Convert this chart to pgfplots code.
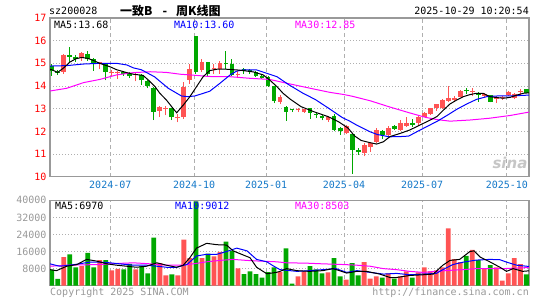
\documentclass[border=0pt]{standalone}
\usepackage{pgfplots}
\pgfplotsset{compat=1.18}
\usepackage{pgfplotstable}
\usepackage{fontspec}
\setmainfont{DejaVu Sans Mono}
\newfontfamily\cjk{Noto Sans CJK SC}
\newfontfamily\logofont{DejaVu Sans}
\definecolor{kred}{RGB}{255,84,84}
\definecolor{kgreen}{RGB}{0,168,0}
\definecolor{tblue}{RGB}{20,120,200}
\definecolor{fgray}{RGB}{153,153,153}
\definecolor{ggray}{RGB}{175,175,175}
\definecolor{mag}{RGB}{255,0,255}

\pgfplotstableread{
x o h l c
0 14.88 14.95 14.45 14.65
1 14.62 14.72 14.48 14.58
2 14.63 15.42 14.55 15.37
3 15.33 15.72 15.05 15.30
4 15.27 15.35 15.05 15.17
5 15.22 15.50 15.12 15.47
6 15.42 15.55 15.10 15.18
7 15.18 15.25 14.68 15.00
8 14.95 15.08 14.75 15.05
9 15.00 15.02 14.25 14.63
10 14.57 14.70 14.45 14.60
11 14.57 14.68 14.30 14.60
12 14.60 14.65 14.45 14.52
13 14.55 14.60 14.35 14.43
14 14.50 14.58 14.20 14.53
15 14.50 14.55 14.05 14.25
16 14.20 14.25 13.90 14.02
17 13.91 13.95 12.50 12.87
18 12.91 13.12 12.65 13.09
19 12.98 13.10 12.70 13.02
20 13.02 13.05 12.50 12.62
21 12.60 12.75 12.40 12.63
22 12.62 14.19 12.55 13.94
23 14.27 14.96 14.10 14.74
24 16.20 16.22 14.55 14.63
25 14.70 15.18 14.60 15.06
26 15.05 15.07 14.45 14.55
27 14.73 14.95 14.55 14.77
28 14.75 15.10 14.55 15.00
29 14.99 15.55 14.75 14.96
30 14.95 15.20 14.45 14.50
31 14.49 14.65 14.35 14.52
32 14.71 14.80 14.55 14.68
33 14.67 14.75 14.55 14.64
34 14.62 14.68 14.40 14.42
35 14.43 14.48 14.30 14.35
36 14.39 14.42 13.95 14.02
37 14.00 14.02 13.25 13.34
38 13.30 13.60 13.20 13.50
39 13.06 13.10 12.47 12.87
40 12.95 13.00 12.85 12.92
41 12.93 13.05 12.85 12.96
42 12.85 13.00 12.82 12.98
43 13.03 13.05 12.55 12.82
44 12.75 12.85 12.58 12.72
45 12.69 12.74 12.48 12.58
46 12.50 12.68 12.42 12.63
47 12.68 12.78 12.00 12.05
48 12.15 12.18 11.85 12.02
49 11.93 12.28 11.88 12.24
50 11.88 11.90 10.12 11.18
51 11.14 11.25 10.95 11.11
52 11.03 11.50 10.90 11.40
53 11.30 11.55 11.10 11.50
54 11.55 12.15 11.50 12.08
55 12.02 12.05 11.65 11.84
56 11.84 12.22 11.75 12.16
57 12.24 12.28 12.05 12.12
58 12.06 12.48 12.02 12.38
59 12.25 12.65 12.20 12.38
60 12.33 12.55 12.20 12.30
61 12.38 12.70 12.25 12.65
62 12.65 12.85 12.62 12.80
63 12.75 13.05 12.72 13.02
64 13.04 13.22 12.90 13.19
65 13.04 13.42 13.00 13.38
66 13.35 14.00 13.30 13.48
67 13.40 13.55 13.30 13.47
68 13.53 13.82 13.50 13.79
69 13.80 13.90 13.65 13.77
70 13.73 13.90 13.55 13.76
71 13.71 13.73 13.31 13.62
72 13.58 13.68 13.50 13.61
73 13.60 13.62 13.28 13.31
74 13.43 13.56 13.24 13.53
75 13.45 13.55 13.40 13.48
76 13.60 13.80 13.55 13.75
77 13.46 13.70 13.42 13.65
78 13.73 13.85 13.60 13.76
79 13.85 13.88 13.68 13.71
}\kdata

\pgfplotstableread{
x v u
0 7520 0
1 3200 0
2 13440 1
3 14720 0
4 8640 0
5 9120 1
6 15360 0
7 8640 0
8 12000 1
9 12000 0
10 7200 1
11 7840 1
12 7680 0
13 10240 0
14 7680 1
15 9120 0
16 5760 0
17 22560 0
18 10560 1
19 4800 1
20 5280 0
21 4800 1
22 21600 1
23 12960 1
24 39500 0
25 12960 1
26 15040 0
27 13760 1
28 15840 1
29 20640 0
30 16320 0
31 8160 1
32 5440 0
33 6720 0
34 5440 0
35 3840 0
36 6400 0
37 8640 0
38 6400 1
39 17440 0
40 960 0
41 4320 1
42 6720 1
43 9120 0
44 7680 0
45 5760 0
46 6240 1
47 12960 0
48 4320 0
49 2880 1
50 10560 0
51 4800 0
52 11040 1
53 3360 1
54 4320 1
55 3840 0
56 5760 1
57 3360 0
58 4320 1
59 6720 1
60 3840 0
61 6240 1
62 8640 1
63 6720 1
64 7200 1
65 8640 1
66 26880 1
67 12480 1
68 11040 1
69 13920 0
70 16800 1
71 12000 0
72 8160 1
73 9600 0
74 8640 1
75 2400 1
76 5760 1
77 12960 1
78 10080 1
79 5280 0
}\vdata

\pgfplotsset{
  kbase/.style={
    scale only axis, width=479bp,
    xmin=-0.283, xmax=79.44,
    axis line style={fgray, line width=1.2bp},
    major tick length=0pt,
    xtick={9.75,23.7,35.7,48.65,61.65,75.75},
    xmajorgrids, ymajorgrids,
    x grid style={ggray, line width=0.9bp, dash pattern=on 4bp off 3bp},
    y grid style={ggray, line width=0.9bp, dash pattern=on 1bp off 2bp},
    tick label style={font=\fontsize{10bp}{10bp}\selectfont},
    scaled y ticks=false,
  },
  wick/.style={draw=none, mark=none, error bars/.cd, y dir=plus, y explicit, error mark=none,
    error bar style={draw=#1, line width=1bp, solid}},
  body/.style={draw=none, mark=none, error bars/.cd, y dir=plus, y explicit, error mark=none,
    error bar style={draw=#1, line width=4.8bp, solid}},
}

\begin{document}
\begin{tikzpicture}
\path[use as bounding box] (0bp,0bp) rectangle (545bp,300bp);
\coordinate (P) at (50bp,123.3bp);
\coordinate (V) at (50bp,14.3bp);

% ---------------- price panel ----------------
\begin{axis}[kbase, at={(P)}, anchor=south west, height=158.7bp,
  ymin=10, ymax=17,
  ytick={10,11,12,13,14,15,16,17},
  yticklabels={10,11,12,13,14,15,16,17},
  yticklabel style={text=red},
  xticklabels={2024-07,2024-10,2025-01,2025-04,2025-07,2025-10},
  xticklabel style={text=tblue, yshift=-1bp},
]
% wicks
\addplot[wick=kred] table[x=x, y expr={\thisrow{c}>=\thisrow{o} ? \thisrow{l} : nan}, y error plus expr={\thisrow{h}-\thisrow{l}}] {\kdata};
\addplot[wick=kgreen] table[x=x, y expr={\thisrow{c}<\thisrow{o} ? \thisrow{l} : nan}, y error plus expr={\thisrow{h}-\thisrow{l}}] {\kdata};
% bodies
\addplot[body=kred] table[x=x, y expr={\thisrow{c}>=\thisrow{o} ? \thisrow{o} : nan}, y error plus expr={max(\thisrow{c}-\thisrow{o},0.05)}] {\kdata};
\addplot[body=kgreen] table[x=x, y expr={\thisrow{c}<\thisrow{o} ? \thisrow{c} : nan}, y error plus expr={max(\thisrow{o}-\thisrow{c},0.05)}] {\kdata};
% MA30
\addplot[mag, line width=1bp, mark=none] coordinates {
(-0.28,13.78) (2.5,13.9) (5.3,14.15) (8,14.29) (10.8,14.49) (13.6,14.59) (16.4,14.63) (19.1,14.6) (21.4,14.52) (23,14.49) (26.3,14.42) (29.7,14.41) (33,14.34) (36.3,14.29) (39.5,14.1) (43.4,13.88) (46.3,13.72) (48.5,13.63) (50,13.55) (53,13.35) (56.2,13.08) (59.5,12.82) (62.2,12.62) (64.1,12.52) (66.3,12.45) (69.6,12.5) (72.9,12.58) (76.3,12.7) (79.44,12.85)};
% MA10
\addplot[blue, line width=1bp, mark=none] coordinates {
(-0.28,14.88) (2.5,14.9) (5.3,14.97) (8,15.0) (10.8,15.0) (12.5,14.93) (13.6,14.8) (14.9,14.72) (17.1,14.41) (19.4,13.9) (21.6,13.56) (22.7,13.53) (23.8,13.56) (24.9,13.65) (26.3,13.77) (28,14.12) (29.7,14.49) (30.8,14.66) (31.9,14.71) (34.1,14.71) (35.8,14.56) (37.5,14.41) (39.5,14.05) (41.7,13.7) (43.9,13.4) (46.2,13.0) (48.3,12.62) (49.6,12.45) (50.6,12.3) (51.5,12.18) (53,11.98) (54.2,11.86) (56.2,11.76) (58,11.77) (59.4,11.79) (60.9,12.0) (62.5,12.22) (64.2,12.45) (65.9,12.72) (67.4,12.97) (69.1,13.21) (70.7,13.41) (72.4,13.53) (74.1,13.56) (76.3,13.56) (79.44,13.6)};
% MA5
\addplot[black, line width=1bp, mark=none] coordinates {
(-0.28,14.74) (0,14.72) (1,14.6) (2,14.8) (3,15.05) (4,15.2) (5,15.26) (6,15.22) (7,15.12) (8,15.0) (9.7,14.85) (10.8,14.72) (12.5,14.59) (13.6,14.52) (15.2,14.47) (16.1,14.26) (17.2,13.97) (18,13.68) (19.1,13.38) (20.2,13.01) (20.8,12.82) (21.9,13.16) (23,13.53) (24.1,13.97) (25.2,14.41) (26.3,14.68) (27.5,14.74) (29.1,14.74) (30.8,14.71) (31.9,14.68) (33.6,14.62) (35.2,14.49) (36.3,14.26) (37.5,13.97) (38.5,13.68) (39.7,13.42) (41.5,13.09) (43.8,12.85) (46,12.65) (47.7,12.43) (49.3,12.15) (50.4,11.8) (51.5,11.6) (53,11.5) (54.1,11.44) (55.2,11.54) (56.3,11.77) (58,11.91) (59.6,12.06) (61.3,12.28) (63,12.5) (64.1,12.65) (65.2,12.94) (66.3,13.21) (67.4,13.38) (68.5,13.53) (69.6,13.62) (70.7,13.68) (71.8,13.68) (72.9,13.53) (74.1,13.49) (75.2,13.46) (76.3,13.5) (77.4,13.6) (78.5,13.68) (79.44,13.7)};
\end{axis}

% ---------------- volume panel ----------------
\begin{axis}[kbase, at={(V)}, anchor=south west, height=85.4bp,
  ymin=0, ymax=40000,
  ytick={8000,16000,24000,32000,40000},
  yticklabels={8000,16000,24000,32000,40000},
  yticklabel style={text=fgray},
  xticklabels={},
]
\addplot[ybar, bar width=4.8bp, bar shift=0pt, fill=kred, draw=none] table[x=x, y expr={\thisrow{u}>0 ? \thisrow{v} : nan}] {\vdata};
\addplot[ybar, bar width=4.8bp, bar shift=0pt, fill=kgreen, draw=none] table[x=x, y expr={\thisrow{u}<1 ? \thisrow{v} : nan}] {\vdata};
% MA30
\addplot[mag, line width=1bp, mark=none] coordinates {
(-0.28,9120) (2.5,9600) (8,9920) (10.8,10400) (13.6,10720) (16.4,10240) (19.1,9600) (21.4,9600) (23.6,10240) (25.8,11200) (28,11840) (30.2,12320) (32.5,11840) (34.6,11520) (37.4,11200) (39.1,10720) (42.4,10560) (45.1,10240) (48.5,9920) (50.8,9600) (53,9120) (55.2,8000) (57.4,7520) (59.6,6720) (61.8,6240) (64,6720) (66.3,7200) (68.5,7520) (70.7,8000) (75.1,8000) (79.44,8503)};
% MA10
\addplot[blue, line width=1bp, mark=none] coordinates {
(-0.28,10240) (1.3,9120) (3,9600) (4.6,10240) (6.3,11040) (8,11040) (9.7,10720) (11.3,10240) (13.6,9600) (15.8,9600) (17.5,9120) (19.1,8640) (20.8,8640) (22.5,9920) (24.1,13920) (25.8,14720) (27.5,14720) (29.1,16000) (30.8,17600) (32.5,16320) (34.1,12320) (35.8,11200) (36.8,9400) (38,7520) (40.8,6720) (43,7040) (45.1,7520) (47.3,8000) (49.1,6240) (50.8,7040) (53,6240) (55.2,5440) (57.4,5760) (59.6,5120) (61.8,5440) (64,5760) (65.1,7520) (66.8,9920) (68.5,11040) (70.7,12000) (72.9,12320) (74.6,12160) (75.7,11040) (77.4,9600) (79.44,9012)};
% MA5
\addplot[black, line width=1bp, mark=none] coordinates {
(-0.28,7520) (0.8,7040) (2.5,9120) (4.2,9920) (5.8,12320) (7.5,11520) (9.2,10240) (10.8,9600) (12.5,9120) (14.1,8640) (15.8,9120) (17.5,10720) (19.1,9600) (20.8,8640) (21.9,9600) (23,13120) (24.1,17600) (25.8,19840) (27.5,19200) (29.1,19040) (30.2,16320) (31.3,15040) (33,13120) (34.1,8640) (35.8,5600) (37.4,6240) (38,6720) (39.1,8000) (40.8,7040) (42.9,6720) (45.1,7040) (46.8,8000) (47.9,7040) (49.1,5920) (50.8,6720) (52.4,6720) (54.6,5440) (56.3,3840) (57.4,3840) (59.6,4800) (61.8,5120) (63.5,5440) (65.1,9600) (66.3,11840) (67.9,12320) (69.6,16000) (70.3,16320) (71.3,13440) (72.9,11200) (74.6,8640) (75.7,6720) (76.8,8000) (78.4,6720) (79.44,6970)};
\end{axis}

% ---------------- texts ----------------
\begin{scope}[x=1bp, y=1bp, every node/.style={inner sep=0pt, font=\fontsize{10bp}{10bp}\selectfont}]
\node[anchor=west] at (49,289.3) {sz200028};
\node[anchor=west, font=\cjk\bfseries\fontsize{12bp}{12bp}\selectfont] at (120,289.5) {一致B\hspace{10bp}-\hspace{9bp}周K线图};
\node[anchor=east] at (529,289.3) {2025-10-29 10:20:54};
\node[anchor=west] at (54,275.5) {MA5:13.68};
\node[anchor=west, text=blue] at (174,275.5) {MA10:13.60};
\node[anchor=west, text=mag] at (295,275.5) {MA30:12.85};
\node[anchor=west] at (55,94) {MA5:6970};
\node[anchor=west, text=blue] at (175,94) {MA10:9012};
\node[anchor=west, text=mag] at (295,94) {MA30:8503};
\node[anchor=west, text=fgray] at (50,7.3) {Copyright 2025 SINA.COM};
\node[anchor=east, text=fgray] at (529,7.3) {http://finance.sina.com.cn};
\node[anchor=center, text=gray!45, font=\logofont\bfseries\itshape\fontsize{15bp}{15bp}\selectfont] at (510,137) {sina};
\end{scope}
\end{tikzpicture}
\end{document}
